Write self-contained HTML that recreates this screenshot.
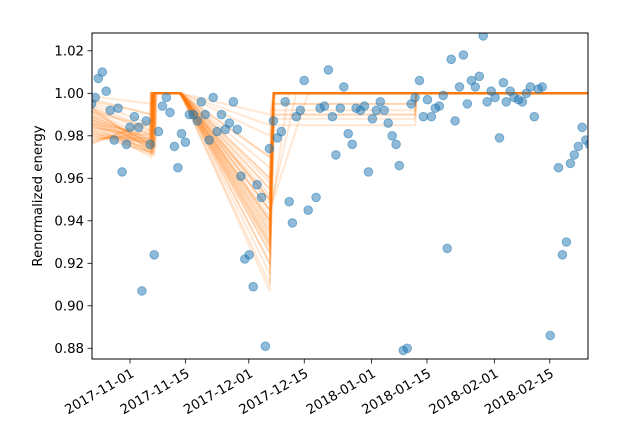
<!DOCTYPE html>
<html><head><meta charset="utf-8"><style>
html,body{margin:0;padding:0;background:#fff;}
svg{display:block;font-family:"DejaVu Sans","Liberation Sans",sans-serif;}
</style></head><body>
<svg id="chart" width="632" height="445" viewBox="0 0 632 445" xmlns="http://www.w3.org/2000/svg">
<defs><clipPath id="plotclip"><rect x="92" y="33" width="496" height="326"/></clipPath></defs>
<rect width="632" height="445" fill="#fff"/>
<g id="lines" clip-path="url(#plotclip)"></g>
<g id="dots" clip-path="url(#plotclip)"></g>
<rect x="92" y="33" width="496" height="326" fill="none" stroke="#000" stroke-width="1"/>
<g id="axes"></g>
<text x="42" y="196" transform="rotate(-90 42 196)" text-anchor="middle" font-size="13.3">Renormalized energy</text>
</svg>
<script>
// days since 2017-11-01
const obsDays = [-9.7,-8.8,-8.0,-7.0,-6.0,-5.0,-4.0,-3.0,-2.0,-0.9,0,1.1,2.2,3.0,4.1,5.1,6.1,7.2,8.2,9.2,10.1,11.2,12.1,13.0,14.0,15.0,16.0,17.0,18.0,19.0,20.0,21.0,22.0,23.1,24.1,25.1,26.1,27.1,28.0,29.0,30.1,31.1,32.1,33.2,34.2,35.2,36.2,37.2,38.2,39.2,40.2,41.0,42.0,43.0,44.0,45.0,47.0,48.0,49.1,50.1,51.1,52.0,53.1,54.0,55.1,56.1,57.1,58.2,59.2,60.2,61.2,62.2,63.2,64.2,65.2,66.2,67.2,68.0,69.0,70.0,71.0,72.0,73.1,74.1,75.1,76.1,77.1,78.1,79.1,80.1,81.1,82.1,83.2,84.2,85.2,86.2,87.2,88.2,89.2,90.2,91.2,92.2,93.3,94.3,95.0,96.0,97.0,98.1,99.1,100.1,101.1,102.1,103.1,104.1,106.1,108.2,109.2,110.2,111.2,112.2,113.2,114.2,115.1,116.0];
const obsValues = [0.995,0.998,1.007,1.010,1.001,0.992,0.978,0.993,0.963,0.976,0.984,0.989,0.984,0.907,0.987,0.976,0.924,0.982,0.994,0.998,0.991,0.975,0.965,0.981,0.977,0.990,0.990,0.987,0.996,0.990,0.978,0.998,0.982,0.990,0.983,0.986,0.996,0.983,0.961,0.922,0.924,0.909,0.957,0.951,0.881,0.974,0.987,0.979,0.982,0.996,0.949,0.939,0.989,0.992,1.006,0.945,0.951,0.993,0.994,1.011,0.989,0.971,0.993,1.003,0.981,0.976,0.993,0.992,0.994,0.963,0.988,0.992,0.996,0.992,0.986,0.980,0.976,0.966,0.879,0.880,0.995,0.998,1.006,0.989,0.997,0.989,0.993,0.994,0.999,0.927,1.016,0.987,1.003,1.018,0.995,1.006,1.003,1.008,1.027,0.996,1.001,0.998,0.979,1.005,0.996,1.001,0.998,0.997,0.996,1.000,1.003,0.989,1.002,1.003,0.886,0.965,0.924,0.930,0.967,0.971,0.975,0.984,0.978,0.976];
// posterior sample parameters
const sampleStart = [0.999,0.998,0.997,0.996,0.995,0.994,0.993,0.992,0.991,0.990,0.989,0.988,0.987,0.986,0.985,0.984,0.983,0.982,0.981,0.980,0.979,0.978,0.977,0.976,0.975,0.995,0.993,0.990,0.988,0.986,0.992,0.989,0.987,0.984,0.981,0.997,0.994,0.991,0.985,0.983];
const sampleJump0 = [5.5,5.2,5.8,6.2,5.5,5.0,5.6,6.5,5.4,5.9,5.5,6.0,5.3,5.7,6.3,5.5,5.1,5.8,6.1,5.5,5.6,5.4,6.4,5.5,5.9,5.2,5.7,6.0,5.5,5.3,5.8,6.2,5.5,5.6,5.0,5.9,5.5,6.1,5.4,5.7];
const sampleDip1 = [0.995,0.99,0.985,0.982,0.98,0.978,0.976,0.975,0.974,0.973,0.972,0.971,0.97,0.975,0.978,0.98,0.976,0.974,0.972,0.977,0.979,0.981,0.983,0.986,0.988,0.973,0.975,0.977,0.979,0.981,0.984,0.974,0.976,0.972,0.978,0.99,0.982,0.975,0.973,0.971];
const sampleJump1 = [12.8,12.8,12.5,12.9,12.8,12.6,12.8,13.0,12.8,12.7,12.8,12.8,12.4,12.8,12.9,12.8,12.7,12.8,12.6,12.8,12.8,12.9,12.8,12.7,12.8,12.8,12.5,12.8,12.9,12.8,12.8,12.6,12.8,12.8,12.7,12.8,12.9,12.8,12.8,12.8];
const sampleDip2 = [0.99,0.98,0.97,0.96,0.955,0.95,0.945,0.94,0.938,0.935,0.932,0.93,0.928,0.925,0.92,0.915,0.91,0.907,0.94,0.945,0.95,0.955,0.935,0.93,0.94,0.945,0.95,0.925,0.96,0.965,0.97,0.942,0.937,0.933,0.948,0.952,0.958,0.928,0.92,0.985];
const sampleRecover = [36.3,36.3,36.3,36.3,36.3,36.3,36.3,36.3,36.3,36.3,36.5,36.3,36.3,36.3,36.3,36.6,36.3,36.3,40,45,36.3,36.3,36.3,36.3,36.3,42,36.3,36.3,36.3,36.3,36.3,36.3,36.3,36.3,36.3,36.3,36.3,36.3,36.3,36.3];
const sampleLevel2 = [1.0,1.0,1.0,0.995,1.0,1.0,0.99,1.0,1.0,1.0,0.985,1.0,1.0,1.0,0.992,1.0,1.0,1.0,1.0,1.0,1.0,0.988,1.0,1.0,1.0,1.0,1.0,0.995,1.0,1.0,1.0,1.0,0.99,1.0,1.0,1.0,1.0,1.0,1.0,1.0];
const yTicks = [0.88,0.90,0.92,0.94,0.96,0.98,1.00,1.02];
const yTickLabels = ["0.88","0.90","0.92","0.94","0.96","0.98","1.00","1.02"];
const xTicks = [0,14,30,44,61,75,92,106];
const xTickLabels = ["2017-11-01","2017-11-15","2017-12-01","2017-12-15","2018-01-01","2018-01-15","2018-02-01","2018-02-15"];

const NS="http://www.w3.org/2000/svg";
function xs(d){return 130+3.96*d;}
function ys(v){return 93.3+(1-v)*2125;}
function mk(tag,attrs,parent){const e=document.createElementNS(NS,tag);for(const k in attrs)e.setAttribute(k,attrs[k]);parent.appendChild(e);return e;}

const lines=document.getElementById('lines');
for(let pass=0;pass<2;pass++){
for(let i=0;i<sampleStart.length;i++){
  const L2=sampleLevel2[i];
  const j0=sampleJump0[i];
  const pts=[[-11,sampleStart[i]],[j0,sampleDip1[i]],[j0+0.2,1.0],[sampleJump1[i],1.0],[35.3,sampleDip2[i]],[sampleRecover[i],L2]];
  if(L2<1){pts.push([72,L2]);pts.push([72.3,1.0]);}
  pts.push([120,1.0]);
  const p=mk('polyline',{points:pts.map(q=>xs(q[0]).toFixed(1)+','+ys(q[1]).toFixed(1)).join(' '),fill:'none',stroke:'#ff7f0e','stroke-width':2,'stroke-opacity':0.09},lines);
  
  
}
}
const dots=document.getElementById('dots');
for(let i=0;i<obsDays.length;i++){
  const c=mk('circle',{cx:xs(obsDays[i]).toFixed(1),cy:ys(obsValues[i]).toFixed(1),r:4.3,fill:'#1f77b4','fill-opacity':0.5,stroke:'#1f77b4','stroke-opacity':0.5,'stroke-width':1},dots);
  
  
}
const axes=document.getElementById('axes');
for(let i=0;i<yTicks.length;i++){
  const y=ys(yTicks[i]);
  const t=mk('line',{x1:87.5,x2:92,y1:y,y2:y,stroke:'#000','stroke-width':0.8},axes);
  
  
  const tx=mk('text',{x:84,y:y+4.5,'text-anchor':'end','font-size':13.3,fill:'#000'},axes);
  tx.textContent=yTickLabels[i];
  
  
}
for(let i=0;i<xTicks.length;i++){
  const x=xs(xTicks[i]);
  const t=mk('line',{x1:x,x2:x,y1:359,y2:363.5,stroke:'#000','stroke-width':0.8},axes);
  
  
  const ax=x+5, ay=376;
  const tx=mk('text',{x:ax,y:ay,'text-anchor':'end','font-size':13.3,fill:'#000',transform:'rotate(-30 '+ax+' '+ay+')'},axes);
  tx.textContent=xTickLabels[i];
  
  
}
</script>
</body></html>
